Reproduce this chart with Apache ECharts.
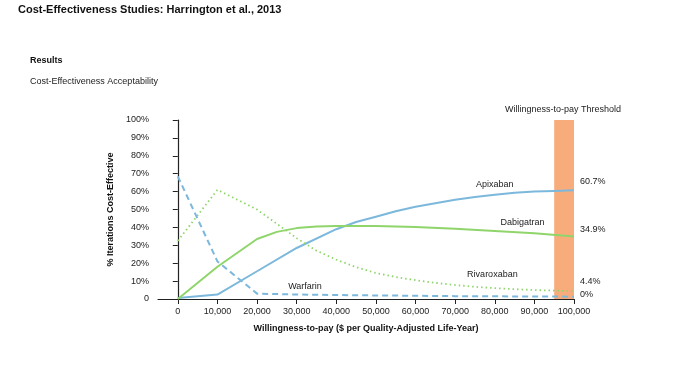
<!DOCTYPE html>
<html>
<head>
<meta charset="utf-8">
<script src="https://cdn.jsdelivr.net/npm/echarts@6/dist/echarts.min.js"></script>
<style>html,body{margin:0;padding:0;background:#fff;}#c{width:700px;height:375px;}</style>
</head>
<body>
<div id="c"></div>
<script>
// ---- data ----
const xTicks = [0,10000,20000,30000,40000,50000,60000,70000,80000,90000,100000];
const yTicks = [0,10,20,30,40,50,60,70,80,90,100];

const apixabanX = [0,10000,20000,30000,40000,45000,50000,55000,60000,65000,70000,75000,80000,85000,90000,95000,100000];
const apixabanY = [0.5,2.5,15.5,28.5,39,43,46,49,51.5,53.5,55.5,57,58.3,59.3,60,60.4,60.7];

const dabigatranX = [0,10000,20000,25000,30000,35000,40000,50000,60000,70000,80000,90000,100000];
const dabigatranY = [0,18,33.5,37.5,39.6,40.5,40.8,40.8,40.2,39.3,38,36.7,34.9];

const rivaroxabanX = [0,10000,20000,25000,30000,35000,40000,45000,50000,55000,60000,65000,70000,75000,80000,85000,90000,95000,100000];
const rivaroxabanY = [32.5,61,50,42,34,27,22,17.8,14.5,12.3,10.5,9,7.8,6.8,6.1,5.5,5.0,4.7,4.4];

const warfarinX = [0,10000,20000,30000,40000,50000,60000,70000,80000,90000,100000];
const warfarinY = [68.5,21,3,2.5,2.2,2,1.8,1.6,1.5,1.4,1.3];

const seriesNames = ['Apixaban','Dabigatran','Rivaroxaban','Warfarin'];
const endLabels = ['60.7%','34.9%','4.4%','0%'];
const threshold = [95000,100000];

function pairs(xs, ys){ return xs.map((x,i)=>[x, ys[i]]); }

const BLUE = '#7cb8dc';
const GREEN = '#8fd56b';
const FONT = 'Liberation Sans, Arial, sans-serif';

const chart = echarts.init(document.getElementById('c'), null, {renderer:'canvas'});

function labelPoint(name, x, y){
  return {
    symbol:'none', silent:true,
    data:[{coord:[x,y], symbol:'circle', symbolSize:0,
      label:{show:true, position:'inside', formatter:name, color:'#222', fontSize:9, fontFamily:FONT}}]
  };
}

function endLabel(i, dy){
  return {show:true, formatter:endLabels[i], color:'#222', fontSize:9, fontFamily:FONT, distance:6, offset:[0,dy]};
}

chart.setOption({
  animation:false,
  textStyle:{fontFamily:FONT},
  title:[
    {text:'Cost-Effectiveness Studies: Harrington et al., 2013', left:18, top:4, padding:0,
     textStyle:{fontSize:11, fontWeight:'bold', color:'#111', fontFamily:FONT}},
    {text:'Results', left:30, top:56, padding:0, textStyle:{fontSize:9, fontWeight:'bold', color:'#111', fontFamily:FONT}},
    {text:'Cost-Effectiveness Acceptability', left:30, top:77, padding:0, textStyle:{fontSize:9, fontWeight:'normal', color:'#222', fontFamily:FONT}},
    {text:'Willingness-to-pay Threshold', left:505, top:105, padding:0, textStyle:{fontSize:9, fontWeight:'normal', color:'#222', fontFamily:FONT}}
  ],
  grid:{left:158, right:126, top:120, bottom:76, containLabel:false},
  xAxis:{
    type:'value', min:-5000, max:100000,
    name:'Willingness-to-pay ($ per Quality-Adjusted Life-Year)',
    nameLocation:'middle', nameGap:25,
    nameTextStyle:{fontSize:9, fontWeight:'bold', color:'#111', fontFamily:FONT},
    axisLine:{show:true, onZero:true, lineStyle:{color:'#222', width:1.2}},
    axisTick:{show:true, customValues:xTicks, length:5, lineStyle:{color:'#222'}},
    axisLabel:{customValues:xTicks, fontSize:9, color:'#222', margin:8,
      formatter:v=>v===0?'0':v.toLocaleString('en-US')},
    splitLine:{show:false}
  },
  yAxis:{
    type:'value', min:0, max:100, interval:10,
    name:'% Iterations Cost-Effective',
    nameLocation:'middle', nameGap:33,
    nameTextStyle:{fontSize:9, fontWeight:'bold', color:'#111', fontFamily:FONT},
    axisLine:{show:true, lineStyle:{color:'#222', width:1.2}},
    axisTick:{show:true, length:5, lineStyle:{color:'#222'}},
    axisLabel:{fontSize:9, color:'#222', margin:9, formatter:v=>v===0?'0':v+'%'},
    splitLine:{show:false}
  },
  series:[
    {name:seriesNames[0], type:'line', data:pairs(apixabanX, apixabanY), showSymbol:false, symbol:'none',
     lineStyle:{color:BLUE, width:2}, itemStyle:{color:BLUE}, z:3,
     endLabel:endLabel(0,-9), markPoint:labelPoint('Apixaban', 80000, 64)},
    {name:seriesNames[1], type:'line', data:pairs(dabigatranX, dabigatranY), showSymbol:false, symbol:'none',
     lineStyle:{color:GREEN, width:2}, itemStyle:{color:GREEN}, z:3,
     endLabel:endLabel(1,-7), markPoint:labelPoint('Dabigatran', 87000, 42.6)},
    {name:seriesNames[2], type:'line', data:pairs(rivaroxabanX, rivaroxabanY), showSymbol:false, symbol:'none',
     lineStyle:{color:GREEN, width:1.8, type:[1.5,3]}, itemStyle:{color:GREEN}, z:3,
     endLabel:endLabel(2,-10), markPoint:labelPoint('Rivaroxaban', 79400, 13.6)},
    {name:seriesNames[3], type:'line', data:pairs(warfarinX, warfarinY), showSymbol:false, symbol:'none',
     lineStyle:{color:BLUE, width:2, type:[6,4]}, itemStyle:{color:BLUE}, z:3,
     endLabel:endLabel(3,-2), markPoint:labelPoint('Warfarin', 32100, 7)},
    {name:'threshold', type:'line', data:[], z:10, silent:true,
     markArea:{silent:true, itemStyle:{color:'rgba(244,128,52,0.65)'},
       data:[[{coord:[threshold[0],0]},{coord:[threshold[1],100]}]]}}
  ]
});
</script>
</body>
</html>
